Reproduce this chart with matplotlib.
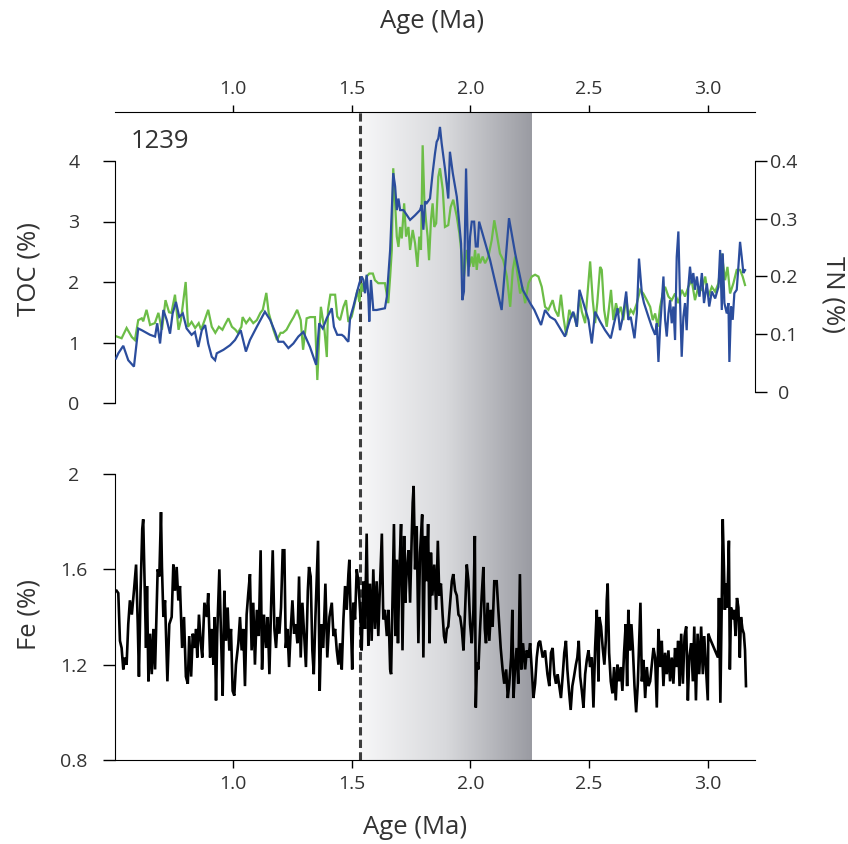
import numpy as np
import matplotlib
matplotlib.use("Agg")
import matplotlib.pyplot as plt
from matplotlib.colors import LinearSegmentedColormap

plt.rcParams["font.family"] = ["Open Sans", "DejaVu Sans"]

# ---------------- data ----------------
# Site 1239: total organic carbon (%) and total nitrogen (%) versus age (Ma)
toc_age = [0.509, 0.530, 0.551, 0.573, 0.586, 0.600, 0.615, 0.621, 0.635, 0.650,
           0.670, 0.685, 0.700, 0.715, 0.730, 0.740, 0.755, 0.770, 0.780, 0.800,
           0.810, 0.825, 0.840, 0.855, 0.865, 0.880, 0.895, 0.910, 0.925, 0.940,
           0.955, 0.965, 0.980, 0.995, 1.010, 1.020, 1.035, 1.040, 1.055, 1.070,
           1.085, 1.100, 1.115, 1.125, 1.140, 1.150, 1.170, 1.185, 1.200, 1.210,
           1.225, 1.240, 1.255, 1.270, 1.285, 1.295, 1.310, 1.325, 1.345, 1.355,
           1.365, 1.370, 1.385, 1.395, 1.400, 1.410,
           1.430, 1.439, 1.451, 1.465, 1.476, 1.486, 1.500, 1.514, 1.524, 1.532,
           1.542, 1.549, 1.563, 1.574, 1.589, 1.598, 1.612, 1.627, 1.640, 1.654,
           1.662, 1.669, 1.675, 1.683, 1.690, 1.697, 1.704, 1.711, 1.721, 1.729,
           1.739, 1.746, 1.757, 1.767, 1.777, 1.785, 1.792, 1.799, 1.806, 1.813,
           1.820, 1.826, 1.834, 1.841, 1.848, 1.856, 1.865, 1.872, 1.884, 1.893,
           1.907, 1.917, 1.928, 1.943, 1.954, 1.964, 1.973, 1.985, 1.996, 2.006,
           2.013, 2.020, 2.027, 2.034, 2.041, 2.052, 2.062, 2.076, 2.090, 2.101,
           2.111, 2.125, 2.139, 2.154, 2.168, 2.179, 2.189, 2.200, 2.210, 2.220,
           2.231, 2.245, 2.259, 2.273, 2.287, 2.301, 2.315, 2.329,
           2.347, 2.357, 2.371, 2.382, 2.392, 2.404, 2.417, 2.428, 2.437, 2.449,
           2.460, 2.470, 2.484, 2.493, 2.505, 2.516, 2.526, 2.535, 2.547, 2.554,
           2.564, 2.575, 2.585, 2.593, 2.603, 2.614, 2.624, 2.634, 2.645, 2.657,
           2.666, 2.676, 2.687, 2.702, 2.716, 2.729, 2.744, 2.758, 2.769, 2.779,
           2.790, 2.800, 2.811, 2.821, 2.835, 2.849, 2.863, 2.877, 2.891, 2.905,
           2.919, 2.933, 2.947, 2.961, 2.976, 2.990, 3.003, 3.018, 3.032, 3.046,
           3.060, 3.074, 3.084, 3.095, 3.109, 3.123, 3.137, 3.148, 3.158]
toc = [1.10, 1.07, 1.24, 1.09, 1.04, 1.37, 1.40, 1.35, 1.54, 1.29,
       1.32, 1.49, 1.21, 1.70, 1.50, 1.49, 1.79, 1.21, 1.37, 2.00,
       1.26, 1.34, 1.24, 1.32, 1.21, 1.37, 1.54, 1.26, 1.16, 1.26,
       1.21, 1.29, 1.40, 1.26, 1.21, 1.16, 1.26, 1.42, 1.32, 1.40,
       1.32, 1.37, 1.49, 1.54, 1.82, 1.49, 1.21, 1.04, 1.16, 1.16,
       1.21, 1.32, 1.42, 1.54, 1.37, 0.88, 1.40, 1.42, 1.42, 0.38,
       1.27, 1.59, 1.21, 0.76, 1.54, 1.79,
       1.79, 1.43, 1.37, 1.59, 1.70, 1.34, 1.43, 1.67, 1.87, 1.67,
       1.98, 1.84, 2.09, 2.14, 2.14, 2.03, 1.98, 1.98, 1.98, 1.65,
       2.09, 2.53, 3.88, 3.30, 2.75, 2.58, 2.91, 2.72, 3.30, 2.75,
       2.91, 2.53, 2.86, 2.64, 2.25, 2.75, 2.53, 4.26, 3.36, 3.02,
       2.75, 2.36, 3.02, 3.30, 2.91, 2.97, 3.74, 3.88, 3.52, 2.91,
       2.94, 3.24, 3.36, 3.08, 2.80, 2.42, 2.09, 2.53, 2.25, 2.42,
       2.25, 2.53, 2.20, 2.47, 2.31, 2.42, 2.31, 2.42, 2.69, 3.02,
       2.80, 2.47, 2.36, 2.09, 1.59, 2.20, 2.42, 2.09, 1.81, 1.92,
       1.65, 1.98, 2.09, 2.12, 2.09, 1.92, 1.59, 1.54,
       1.70, 1.54, 1.43, 1.79, 1.43, 1.12, 1.54, 1.43, 1.48, 1.26,
       1.76, 1.51, 1.32, 1.76, 2.34, 1.70, 1.32, 1.65, 2.25, 2.20,
       1.54, 1.26, 1.59, 1.87, 1.37, 1.65, 1.48, 1.59, 1.37, 1.76,
       1.43, 1.54, 1.48, 1.65, 1.87, 1.81, 1.70, 1.59, 1.37, 1.48,
       1.26, 1.59, 1.81, 1.92, 1.76, 1.70, 1.81, 1.65, 1.87, 1.76,
       1.92, 2.03, 1.70, 1.92, 1.87, 2.09, 1.76, 1.92, 1.84, 1.98,
       2.47, 2.03, 2.25, 1.81, 1.98, 2.20, 2.20, 2.09, 1.95]

tn_age = [0.506, 0.516, 0.537, 0.558, 0.582, 0.600, 0.615, 0.650, 0.671, 0.680,
          0.692, 0.706, 0.720, 0.734, 0.745, 0.759, 0.773, 0.788, 0.804, 0.825,
          0.839, 0.853, 0.868, 0.882, 0.895, 0.910, 0.924, 0.931, 0.959, 0.987,
          1.008, 1.032, 1.054, 1.071, 1.100, 1.134, 1.156, 1.177, 1.191, 1.212,
          1.233, 1.254, 1.275, 1.296, 1.324, 1.350, 1.363, 1.378, 1.395, 1.416,
          1.425, 1.439, 1.458, 1.468, 1.479, 1.486, 1.493, 1.507, 1.521, 1.532,
          1.542, 1.549, 1.556, 1.563, 1.570, 1.574, 1.581, 1.591, 1.605, 1.640,
          1.648, 1.662, 1.669, 1.675, 1.683, 1.690, 1.697, 1.704, 1.718, 1.746,
          1.767, 1.788, 1.795, 1.802, 1.809, 1.816, 1.830, 1.841, 1.851, 1.858,
          1.865, 1.872, 1.879, 1.893, 1.907, 1.914, 1.926, 1.943, 1.961, 1.966,
          1.973, 1.982, 1.992, 1.999, 2.006, 2.016, 2.023, 2.031, 2.037, 2.083,
          2.132, 2.163, 2.189, 2.221, 2.252, 2.270, 2.298, 2.315, 2.336,
          2.357, 2.399, 2.420, 2.434, 2.449, 2.460, 2.477, 2.498, 2.512, 2.526,
          2.547, 2.568, 2.592, 2.606, 2.621, 2.631, 2.643, 2.657, 2.666, 2.676,
          2.692, 2.702, 2.711, 2.723, 2.732, 2.751, 2.765, 2.779, 2.786, 2.793,
          2.800, 2.807, 2.814, 2.821, 2.828, 2.835, 2.842, 2.849, 2.856, 2.863,
          2.870, 2.877, 2.884, 2.891, 2.898, 2.905, 2.912, 2.919, 2.926, 2.933,
          2.940, 2.947, 2.955, 2.966, 2.976, 2.985, 2.997, 3.007, 3.018, 3.032,
          3.046, 3.053, 3.060, 3.064, 3.071, 3.081, 3.088, 3.092, 3.099, 3.106,
          3.113, 3.123, 3.130, 3.137, 3.144, 3.151, 3.158]
tn = [0.058, 0.067, 0.080, 0.055, 0.044, 0.110, 0.107, 0.099, 0.096, 0.119,
      0.084, 0.142, 0.125, 0.101, 0.136, 0.156, 0.130, 0.136, 0.110, 0.099,
      0.104, 0.078, 0.107, 0.116, 0.084, 0.061, 0.055, 0.067, 0.073, 0.081,
      0.090, 0.107, 0.070, 0.090, 0.113, 0.139, 0.125, 0.104, 0.087, 0.087,
      0.076, 0.084, 0.096, 0.104, 0.078, 0.047, 0.119, 0.110, 0.128, 0.145,
      0.113, 0.099, 0.099, 0.096, 0.090, 0.087, 0.128, 0.148, 0.171, 0.188,
      0.200, 0.194, 0.171, 0.203, 0.165, 0.122, 0.194, 0.142, 0.142, 0.145,
      0.165, 0.246, 0.315, 0.379, 0.356, 0.315, 0.335, 0.315, 0.315, 0.298,
      0.306, 0.315, 0.324, 0.281, 0.330, 0.327, 0.335, 0.379, 0.413, 0.433,
      0.439, 0.459, 0.431, 0.387, 0.335, 0.416, 0.379, 0.338, 0.257, 0.159,
      0.174, 0.387, 0.200, 0.269, 0.295, 0.295, 0.252, 0.252, 0.295, 0.229,
      0.142, 0.301, 0.240, 0.177, 0.154, 0.142, 0.116, 0.142, 0.130,
      0.125, 0.096, 0.125, 0.139, 0.113, 0.177, 0.154, 0.125, 0.084, 0.139,
      0.122, 0.107, 0.093, 0.119, 0.145, 0.107, 0.130, 0.174, 0.125, 0.130,
      0.093, 0.136, 0.231, 0.171, 0.154, 0.130, 0.113, 0.099, 0.119, 0.052,
      0.113, 0.154, 0.200, 0.125, 0.096, 0.136, 0.159, 0.119, 0.148, 0.090,
      0.234, 0.278, 0.159, 0.061, 0.130, 0.154, 0.107, 0.182, 0.217, 0.188,
      0.206, 0.177, 0.200, 0.165, 0.206, 0.154, 0.188, 0.148, 0.174, 0.162,
      0.182, 0.246, 0.142, 0.240, 0.154, 0.136, 0.154, 0.052, 0.148, 0.125,
      0.171, 0.177, 0.217, 0.260, 0.234, 0.206, 0.211]

# Site 1239: XRF-scanned iron content (%) versus age (Ma)
fe_age = [0.509, 0.516, 0.523, 0.530, 0.537, 0.544, 0.551, 0.558, 0.565, 0.573,
          0.582, 0.591, 0.598, 0.603, 0.610, 0.617, 0.621, 0.627, 0.633, 0.637,
          0.643, 0.650, 0.657, 0.664, 0.671, 0.678, 0.682, 0.689, 0.696, 0.700,
          0.706, 0.713, 0.723, 0.731, 0.741, 0.748, 0.755, 0.762, 0.769, 0.776,
          0.785, 0.793, 0.801, 0.809, 0.815, 0.823, 0.830, 0.837, 0.844, 0.849,
          0.856, 0.863, 0.870, 0.879, 0.889, 0.895, 0.903, 0.910, 0.917, 0.922,
          0.928, 0.933, 0.942, 0.949, 0.956, 0.963, 0.970, 0.977, 0.984, 0.991,
          0.998, 1.005, 1.012, 1.022, 1.029, 1.036, 1.043, 1.050, 1.057, 1.064,
          1.071, 1.078, 1.085, 1.092, 1.100, 1.108, 1.116, 1.122, 1.130, 1.139,
          1.146, 1.153, 1.160, 1.167, 1.174, 1.181, 1.188, 1.195, 1.202, 1.209,
          1.216, 1.222, 1.229, 1.236, 1.243, 1.250, 1.257, 1.264, 1.271, 1.278,
          1.285, 1.292, 1.300, 1.307, 1.315, 1.320, 1.327, 1.334, 1.340, 1.347,
          1.353, 1.358, 1.365, 1.372, 1.380, 1.389, 1.397, 1.406,
          1.416, 1.423, 1.430, 1.437, 1.444, 1.451, 1.458, 1.465, 1.472, 1.479,
          1.486, 1.490, 1.496, 1.502, 1.507, 1.514, 1.521, 1.528, 1.535, 1.542,
          1.549, 1.556, 1.563, 1.570, 1.577, 1.584, 1.591, 1.598, 1.605, 1.612,
          1.619, 1.627, 1.633, 1.640, 1.648, 1.655, 1.662, 1.666, 1.673, 1.678,
          1.684, 1.690, 1.695, 1.701, 1.708, 1.714, 1.721, 1.726, 1.732, 1.739,
          1.746, 1.753, 1.757, 1.761, 1.767, 1.774, 1.781, 1.788, 1.797, 1.802,
          1.809, 1.816, 1.822, 1.828, 1.834, 1.840, 1.848, 1.856, 1.863, 1.869,
          1.876, 1.883, 1.889, 1.895, 1.901, 1.907, 1.915, 1.922, 1.928, 1.936,
          1.943, 1.950, 1.957, 1.964, 1.971, 1.978, 1.985, 1.992, 1.999, 2.006,
          2.013, 2.019, 2.023, 2.028, 2.034, 2.041, 2.048, 2.055, 2.061, 2.066,
          2.073, 2.080, 2.087, 2.094, 2.101, 2.111, 2.118, 2.128, 2.136, 2.143,
          2.151, 2.158, 2.164, 2.172, 2.177, 2.182, 2.188, 2.195, 2.202, 2.209,
          2.215, 2.222, 2.231, 2.238, 2.245, 2.252, 2.259, 2.266, 2.273, 2.280,
          2.287,
          2.294, 2.305, 2.315, 2.325, 2.333, 2.340, 2.347, 2.354, 2.361, 2.368,
          2.375, 2.382, 2.389, 2.396, 2.403, 2.409, 2.416, 2.423, 2.430, 2.437,
          2.445, 2.451, 2.457, 2.463, 2.470, 2.477, 2.484, 2.491, 2.498, 2.505,
          2.512, 2.519, 2.526, 2.533, 2.540, 2.544, 2.551, 2.558, 2.565, 2.571,
          2.575, 2.579, 2.585, 2.592, 2.599, 2.606, 2.613, 2.620, 2.627, 2.634,
          2.641, 2.648, 2.655, 2.661, 2.666, 2.673, 2.679, 2.685, 2.692, 2.699,
          2.706, 2.712, 2.717, 2.723, 2.730, 2.737, 2.744, 2.751, 2.758, 2.765,
          2.772, 2.779, 2.786, 2.793, 2.800, 2.807, 2.814, 2.821, 2.828, 2.835,
          2.842, 2.849, 2.856, 2.863, 2.870, 2.876, 2.882, 2.889, 2.896, 2.903,
          2.910, 2.917, 2.923, 2.931, 2.938, 2.944, 2.951, 2.958, 2.965, 2.973,
          2.980, 2.986, 2.993, 3.001, 3.003, 3.010, 3.044, 3.048, 3.054, 3.060,
          3.064, 3.069, 3.073, 3.077, 3.083, 3.090, 3.094, 3.099, 3.105, 3.112,
          3.118, 3.124, 3.130, 3.136, 3.141, 3.147, 3.153, 3.158, 3.162]
fe = [1.51, 1.50, 1.30, 1.27, 1.18, 1.23, 1.20, 1.37, 1.47, 1.41,
      1.51, 1.62, 1.37, 1.15, 1.51, 1.77, 1.81, 1.55, 1.27, 1.53,
      1.13, 1.33, 1.16, 1.35, 1.18, 1.44, 1.60, 1.57, 1.84, 1.61,
      1.40, 1.47, 1.13, 1.37, 1.40, 1.62, 1.51, 1.61, 1.47, 1.53,
      1.27, 1.40, 1.15, 1.12, 1.32, 1.15, 1.33, 1.27, 1.35, 1.23,
      1.41, 1.30, 1.23, 1.46, 1.40, 1.50, 1.23, 1.35, 1.20, 1.40,
      1.05, 1.33, 1.60, 1.32, 1.07, 1.51, 1.30, 1.44, 1.26, 1.35,
      1.09, 1.07, 1.20, 1.29, 1.40, 1.26, 1.35, 1.11, 1.41, 1.50,
      1.58, 1.26, 1.46, 1.20, 1.43, 1.32, 1.68, 1.18, 1.41, 1.27,
      1.40, 1.16, 1.44, 1.68, 1.35, 1.27, 1.40, 1.33, 1.44, 1.68,
      1.68, 1.27, 1.35, 1.19, 1.35, 1.47, 1.33, 1.37, 1.29, 1.57,
      1.23, 1.46, 1.32, 1.19, 1.51, 1.61, 1.57, 1.26, 1.16, 1.40,
      1.58, 1.72, 1.09, 1.37, 1.27, 1.54, 1.23, 1.40,
      1.46, 1.32, 1.35, 1.26, 1.20, 1.29, 1.18, 1.39, 1.53, 1.43,
      1.58, 1.64, 1.39, 1.18, 1.46, 1.39, 1.60, 1.55, 1.43, 1.26,
      1.55, 1.35, 1.75, 1.28, 1.54, 1.30, 1.60, 1.35, 1.55, 1.32,
      1.53, 1.75, 1.39, 1.43, 1.32, 1.43, 1.18, 1.16, 1.53, 1.79,
      1.32, 1.64, 1.29, 1.60, 1.79, 1.26, 1.74, 1.46, 1.60, 1.68,
      1.46, 1.74, 1.88, 1.95, 1.60, 1.78, 1.29, 1.67, 1.83, 1.23,
      1.74, 1.55, 1.79, 1.29, 1.67, 1.49, 1.62, 1.43, 1.72, 1.49,
      1.54, 1.41, 1.32, 1.29, 1.35, 1.36, 1.46, 1.55, 1.58, 1.51,
      1.49, 1.41, 1.40, 1.35, 1.26, 1.43, 1.62, 1.55, 1.37, 1.29,
      1.43, 1.74, 1.02, 1.21, 1.18, 1.35, 1.49, 1.61, 1.35, 1.29,
      1.46, 1.30, 1.43, 1.36, 1.55, 1.55, 1.43, 1.27, 1.18, 1.12,
      1.18, 1.06, 1.12, 1.23, 1.43, 1.06, 1.18, 1.27, 1.12, 1.58,
      1.18, 1.29, 1.18, 1.26, 1.23, 1.29, 1.18, 1.06, 1.12, 1.23,
      1.29,
      1.30, 1.23, 1.26, 1.16, 1.11, 1.25, 1.27, 1.16, 1.12, 1.16,
      1.11, 1.06, 1.15, 1.25, 1.30, 1.18, 1.09, 1.01, 1.11, 1.15,
      1.20, 1.23, 1.30, 1.15, 1.09, 1.02, 1.16, 1.22, 1.26, 1.19,
      1.23, 1.02, 1.27, 1.43, 1.13, 1.40, 1.36, 1.27, 1.20, 1.30,
      1.47, 1.54, 1.25, 1.13, 1.08, 1.19, 1.05, 1.20, 1.13, 1.19,
      1.09, 1.25, 1.37, 1.11, 1.43, 1.26, 1.37, 1.27, 1.11, 1.00,
      1.12, 1.30, 1.46, 1.13, 1.22, 1.06, 1.19, 1.11, 1.13, 1.20,
      1.27, 1.23, 1.02, 1.35, 1.19, 1.30, 1.11, 1.25, 1.16, 1.26,
      1.13, 1.23, 1.12, 1.27, 1.19, 1.30, 1.11, 1.33, 1.12, 1.32,
      1.36, 1.05, 1.23, 1.29, 1.13, 1.36, 1.05, 1.33, 1.16, 1.36,
      1.16, 1.32, 1.19, 1.05, 1.33, 1.31, 1.23, 1.48, 1.04, 1.47,
      1.81, 1.61, 1.43, 1.54, 1.44, 1.72, 1.18, 1.44, 1.39, 1.43,
      1.32, 1.48, 1.44, 1.23, 1.40, 1.35, 1.33, 1.26, 1.11]

age_ticks = [1.0, 1.5, 2.0, 2.5, 3.0]
toc_ticks = [0, 1, 2, 3, 4]
tn_ticks = [0, 0.1, 0.2, 0.3, 0.4]
tn_labels = ["0", "0.1", "0.2", "0.3", "0.4"]
fe_ticks = [0.8, 1.2, 1.6, 2.0]
fe_labels = ["0.8", "1.2", "1.6", "2"]

event_age = 1.535            # dashed marker
shade_span = (1.535, 2.26)   # shaded interval

# ---------------- layout (pixel frame of an 848 x 844 canvas) ----------------
W, H = 848, 844
fig = plt.figure(figsize=(W / 100, H / 100), dpi=100)


def box(x0, y0, x1, y1):
    """Axes rectangle from pixel edges measured from the top-left corner."""
    return [x0 / W, 1 - y1 / H, (x1 - x0) / W, (y1 - y0) / H]


XL = (0.5, 3.2)
X0, X1 = 114.5, 755
TXT = "#333333"
TICK_FS = 14
LAB_FS = 18.5

# background: shaded interval with gradient and dashed marker
bg = fig.add_axes(box(X0, 112, X1, 760), zorder=0)
shade_cmap = LinearSegmentedColormap.from_list(
    "shade", ["#f7f7f8", "#d8d9dc", "#9a9ba2"])
bg.imshow(np.linspace(0, 1, 256)[None, :], extent=[shade_span[0], shade_span[1], 0, 1],
          aspect="auto", cmap=shade_cmap, interpolation="bilinear")
bg.axvline(event_age, color="#3d3d3d", lw=2.2, ls=(0, (2.7, 1.4)))
bg.set_xlim(XL)
bg.set_ylim(0, 1)
bg.axis("off")

# upper panel: TOC (left) and TN (right)
ax1 = fig.add_axes(box(X0, 112, X1, 403), zorder=2)
ax1.patch.set_visible(False)
ax1.plot(toc_age, toc, color="#6cbd47", lw=1.6, solid_joinstyle="miter")
ax1.set_xlim(XL)
ax1.set_ylim(0, 291 / 60.5)
for s in ("bottom", "right"):
    ax1.spines[s].set_visible(False)
ax1.spines["left"].set_bounds(0, 4)
ax1.xaxis.set_ticks_position("top")
ax1.set_xticks(age_ticks, labels=[f"{a:.1f}" for a in age_ticks])
ax1.tick_params(axis="x", direction="out", length=5, width=1, pad=5,
                labelsize=TICK_FS, labelcolor=TXT)
ax1.set_yticks(toc_ticks, labels=[str(t) for t in toc_ticks])
ax1.tick_params(axis="y", direction="out", length=8.6, width=1, pad=20.5,
                labelsize=TICK_FS, labelcolor=TXT)
for t in ax1.get_yticklabels():
    t.set_horizontalalignment("center")

ax2 = ax1.twinx()
ax2.patch.set_visible(False)
ax2.plot(tn_age, tn, color="#2b4d9d", lw=1.6, solid_joinstyle="miter")
tn_lo = -11 / 577.5
ax2.set_ylim(tn_lo, tn_lo + 291 / 577.5)
for s in ("bottom", "left", "top"):
    ax2.spines[s].set_visible(False)
ax2.spines["right"].set_bounds(0, 0.4)
ax2.set_yticks(tn_ticks, labels=tn_labels)
ax2.tick_params(axis="y", direction="out", length=8.6, width=1, pad=12,
                labelsize=TICK_FS, labelcolor=TXT)
for t in ax2.get_yticklabels():
    t.set_horizontalalignment("center")

# lower panel: Fe
ax3 = fig.add_axes(box(X0, 474, X1, 760), zorder=2)
ax3.patch.set_visible(False)
ax3.plot(fe_age, fe, color="black", lw=1.9, solid_joinstyle="miter")
ax3.set_xlim(XL)
ax3.set_ylim(0.8, 2.0)
for s in ("top", "right"):
    ax3.spines[s].set_visible(False)
ax3.set_xticks(age_ticks, labels=[f"{a:.1f}" for a in age_ticks])
ax3.tick_params(axis="x", direction="out", length=5.8, width=1, pad=5,
                labelsize=TICK_FS, labelcolor=TXT)
ax3.set_yticks(fe_ticks, labels=fe_labels)
ax3.tick_params(axis="y", direction="out", length=8.6, width=1, pad=20.5,
                labelsize=TICK_FS, labelcolor=TXT)
for t in ax3.get_yticklabels():
    t.set_horizontalalignment("center")

# titles and axis names
fig.text(432 / W, 1 - 22 / H, "Age (Ma)", ha="center", va="center",
         fontsize=LAB_FS, color=TXT)
fig.text(415 / W, 1 - 827 / H, "Age (Ma)", ha="center", va="center",
         fontsize=LAB_FS, color=TXT)
fig.text(29.5 / W, 1 - 269 / H, "TOC (%)", ha="center", va="center",
         rotation=90, fontsize=LAB_FS, color=TXT)
fig.text(29.5 / W, 1 - 614 / H, "Fe (%)", ha="center", va="center",
         rotation=90, fontsize=LAB_FS, color=TXT)
fig.text(833 / W, 1 - 295 / H, "TN (%)", ha="center", va="center",
         rotation=270, fontsize=LAB_FS, color=TXT)
fig.text(131 / W, 1 - 141 / H, "1239", ha="left", va="center",
         fontsize=LAB_FS, color=TXT)

fig.savefig("out.png", dpi=100)
